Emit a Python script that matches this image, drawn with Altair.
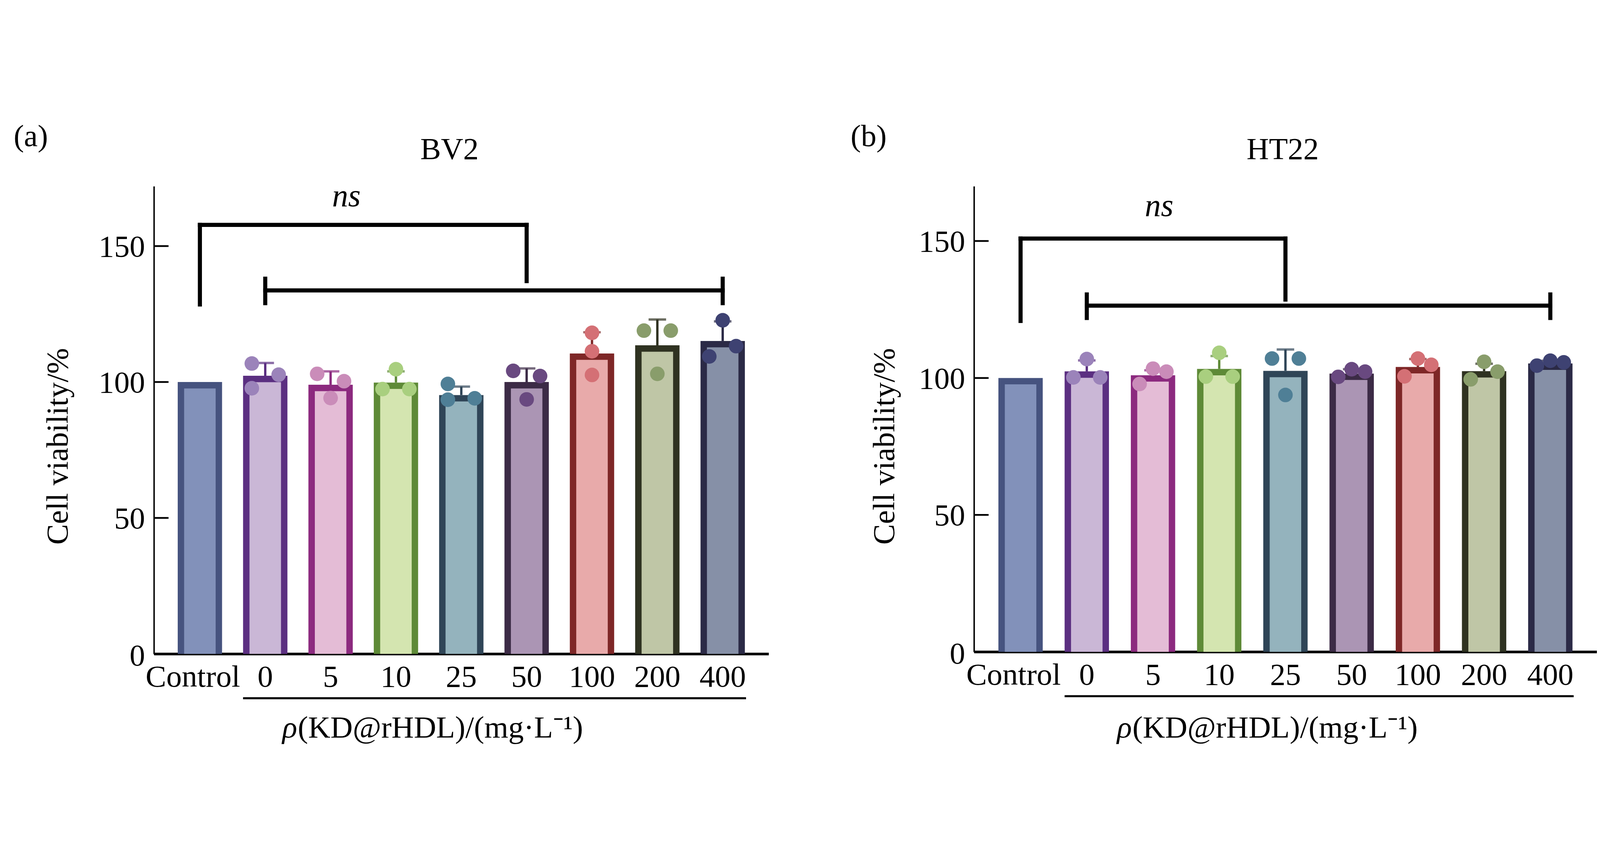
import altair as alt
import pandas as pd

categories = ["Control", "0", "5", "10", "25", "50", "100", "200", "400"]

stroke_colors = ["#46537F", "#5B2F81", "#8C2A7F", "#5E8A37", "#2F4557",
                 "#3C2B46", "#7E2727", "#2F3221", "#2B2A46"]
fill_colors = ["#8291BA", "#CAB7D6", "#E4BCD6", "#D4E5B0", "#94B3BD",
               "#AB95B4", "#E8AAAA", "#BFC6A6", "#8690A7"]
dot_colors = ["#8291BA", "#9B83BA", "#CA8CB9", "#A9CF7F", "#4F7F96",
              "#694980", "#D47075", "#899D6B", "#3E4272"]

# ---- BV2 (a) ----
bv2_mean = [100.0, 102.3, 99.0, 99.8, 95.2, 100.0, 110.5, 113.5, 115.1]
bv2_sd_top = [None, 107.0, 103.9, 103.9, 98.3, 105.0, 118.3, 123.0, 122.3]
bv2_dots = [[], [106.8, 102.7, 97.7], [103.0, 100.3, 94.1], [104.7, 97.4, 97.4],
            [99.3, 93.5, 94.0], [104.1, 102.2, 93.6], [118.1, 111.3, 102.6],
            [118.9, 118.9, 103.0], [122.7, 113.2, 109.4]]
bv2_dot_side = [[], [-1, 1, -1], [-1, 1, 0], [0, -1, 1], [-1, -1, 1],
                [-1, 1, 0], [0, 0, 0], [-1, 1, 0], [0, 1, -1]]
# significance bracket levels (y values)
bv2_bracket = [("Control", "Control", 128.5, 157.8), ("Control", "50", 157.8, 157.8),
               ("50", "50", 137.1, 157.8), ("0", "400", 133.7, 133.7),
               ("0", "0", 129.0, 138.0), ("400", "400", 129.0, 138.0)]
bv2_ns = ("5", 168.2)

# ---- HT22 (b) ----
ht22_mean = [100.0, 102.4, 101.0, 103.3, 102.6, 101.6, 104.0, 102.5, 105.3]
ht22_sd_top = [None, 106.4, 102.8, 108.0, 110.4, 103.2, 106.9, 105.2, 106.3]
ht22_dots = [[], [106.9, 100.2, 100.2], [103.4, 102.3, 97.8], [109.2, 100.5, 100.5],
             [107.1, 107.1, 93.8], [100.4, 103.2, 102.3], [107.1, 104.8, 100.6],
             [105.9, 102.3, 99.5], [104.5, 106.3, 105.7]]
ht22_dot_side = [[], [0, -1, 1], [0, 1, -1], [0, -1, 1], [-1, 1, 0],
                 [-1, 0, 1], [0, 1, -1], [0, 1, -1], [-1, 0, 1]]
ht22_bracket = [("Control", "Control", 120.8, 150.9), ("Control", "25", 150.9, 150.9),
                ("25", "25", 128.6, 150.9), ("0", "400", 126.4, 126.4),
                ("0", "0", 121.9, 130.5), ("400", "400", 121.9, 130.5)]
ht22_ns = ("5", 162.7)

y_ticks = [0, 50, 100, 150]
y_title = "Cell viability/%"
x_title_sym = "ρ"
x_title_rest = "(KD@rHDL)/(mg·L⁻¹)"

FONT = "Liberation Serif"
FS = 106


def panel(letter, name, means, sd_top, dots, sides, bracket, ns, W, H, ymax,
          ytitle_x, xtitle_x, xtitle_y, name_x, letter_x, ns_dx, ctrl_shift):
    bars = pd.DataFrame({"cat": categories, "mean": means,
                         "stroke_c": stroke_colors, "fill_c": fill_colors})
    err = pd.DataFrame({"cat": categories, "mean": means, "top": sd_top,
                        "stroke_c": stroke_colors}).dropna()
    rows = []
    for c, vals, sd, dc in zip(categories, dots, sides, dot_colors):
        for v, s in zip(vals, sd):
            rows.append({"cat": c, "value": v, "side": s, "dot_c": dc})
    pts = pd.DataFrame(rows)
    br = pd.DataFrame(bracket, columns=["cat", "cat2", "y", "y2"])
    ticks = pd.DataFrame({"v": y_ticks})

    xscale = alt.Scale(domain=categories, paddingInner=0, paddingOuter=0.203)
    yscale = alt.Scale(domain=[0, ymax], nice=False, zero=True)

    xaxis = alt.Axis(
        title=None,
        labelFont=FONT, labelFontSize=FS, labelColor="black", labelAngle=0,
        labelPadding=28, labelLimit=2000, labelOverlap=False,
        ticks=False, tickSize=0, domainWidth=9, domainColor="black",
        labelOffset={"condition": {"test": "datum.value === 'Control'", "value": ctrl_shift},
                     "value": 0},
    )
    yaxis = alt.Axis(
        title=y_title, titleFont=FONT, titleFontSize=FS, titleFontWeight="normal",
        titleColor="black", titleAngle=270, titleX=ytitle_x, titleY=891,
        titleAlign="center", titleBaseline="alphabetic",
        values=y_ticks, labelFont=FONT, labelFontSize=FS, labelColor="black",
        labelPadding=31, ticks=False, tickSize=0, grid=False,
        domainWidth=5, domainColor="black",
        labelOffset={"condition": {"test": "datum.value === 0", "value": 8}, "value": 4},
    )

    def X(field="cat"):
        return alt.X(f"{field}:N", sort=categories, scale=xscale, axis=xaxis)

    def Y(field):
        return alt.Y(f"{field}:Q", scale=yscale, axis=yaxis)

    outer = alt.Chart(bars).mark_bar(size=152).encode(
        x=X(), y=Y("mean"), color=alt.Color("stroke_c:N", scale=None))
    inner = alt.Chart(bars).mark_bar(size=108, yOffset=22, clip=True).encode(
        x=X(), y=Y("mean"), color=alt.Color("fill_c:N", scale=None))
    eline = alt.Chart(err).mark_rule(strokeWidth=8).encode(
        x=X(), y=Y("mean"), y2="top:Q", color=alt.Color("stroke_c:N", scale=None))
    ecap = alt.Chart(err).mark_tick(size=60, thickness=8, orient="horizontal").encode(
        x=X(), y=Y("top"), color=alt.Color("stroke_c:N", scale=None))
    dot_layers = []
    for s in (-1, 0, 1):
        dot_layers.append(
            alt.Chart(pts).transform_filter(f"datum.side == {s}")
            .mark_circle(size=2500, opacity=1, xOffset=46 * s)
            .encode(x=X(), y=Y("value"), color=alt.Color("dot_c:N", scale=None))
        )
    brk = alt.Chart(br).mark_rule(strokeWidth=14, color="black", strokeCap="square").encode(
        x=X(), x2="cat2:N", y=Y("y"), y2="y2:Q")
    tickm = alt.Chart(ticks).mark_rule(strokeWidth=6, color="black").encode(
        y=Y("v"), x=alt.value(0), x2=alt.value(50))
    nsm = alt.Chart(pd.DataFrame({"cat": [ns[0]], "y": [ns[1]], "t": ["ns"]})).mark_text(
        font=FONT, fontSize=110, fontStyle="italic", baseline="middle", dx=ns_dx,
        color="black").encode(x=X(), y=Y("y"), text="t:N")
    namem = alt.Chart(pd.DataFrame({"t": [name]})).mark_text(
        font=FONT, fontSize=FS, baseline="alphabetic", align="center", color="black"
    ).encode(x=alt.value(name_x), y=alt.value(-93), text="t:N")
    letm = alt.Chart(pd.DataFrame({"t": [letter]})).mark_text(
        font=FONT, fontSize=FS, baseline="alphabetic", align="left", color="black"
    ).encode(x=alt.value(letter_x), y=alt.value(-138), text="t:N")
    rho = alt.Chart(pd.DataFrame({"t": [x_title_sym]})).mark_text(
        font=FONT, fontSize=FS, fontStyle="italic", baseline="alphabetic", align="right",
        color="black"
    ).encode(x=alt.value(xtitle_x), y=alt.value(H + xtitle_y), text="t:N")
    xrest = alt.Chart(pd.DataFrame({"t": [x_title_rest]})).mark_text(
        font=FONT, fontSize=FS, baseline="alphabetic", align="left", color="black"
    ).encode(x=alt.value(xtitle_x + 2), y=alt.value(H + xtitle_y), text="t:N")
    uline = alt.Chart(pd.DataFrame({"a": ["0"], "b": ["400"]})).mark_rule(
        strokeWidth=7, color="black", xOffset=-76, x2Offset=80
    ).encode(x=X("a"), x2="b:N", y=alt.value(H + 152))

    return alt.layer(outer, inner, eline, ecap, *dot_layers, brk, tickm, nsm,
                     namem, letm, rho, xrest, uline).properties(width=W, height=H)


pa = panel("(a)", "BV2", bv2_mean, bv2_sd_top, bv2_dots, bv2_dot_side, bv2_bracket,
           bv2_ns, 2107, 1603, 172, -297, 491, 286, 1013, -481, 54, -24)
pb = panel("(b)", "HT22", ht22_mean, ht22_sd_top, ht22_dots, ht22_dot_side, ht22_bracket,
           ht22_ns, 2135, 1596, 170, -274, 541, 293, 1058, -423, 21, -24)

chart = alt.hconcat(pa, pb, spacing=281).properties(
    padding={"left": 36, "top": 37, "right": 0, "bottom": 0},
    background="white",
).configure_view(stroke=None)

chart.save("out.html", embed_options={"renderer": "svg", "actions": False})
